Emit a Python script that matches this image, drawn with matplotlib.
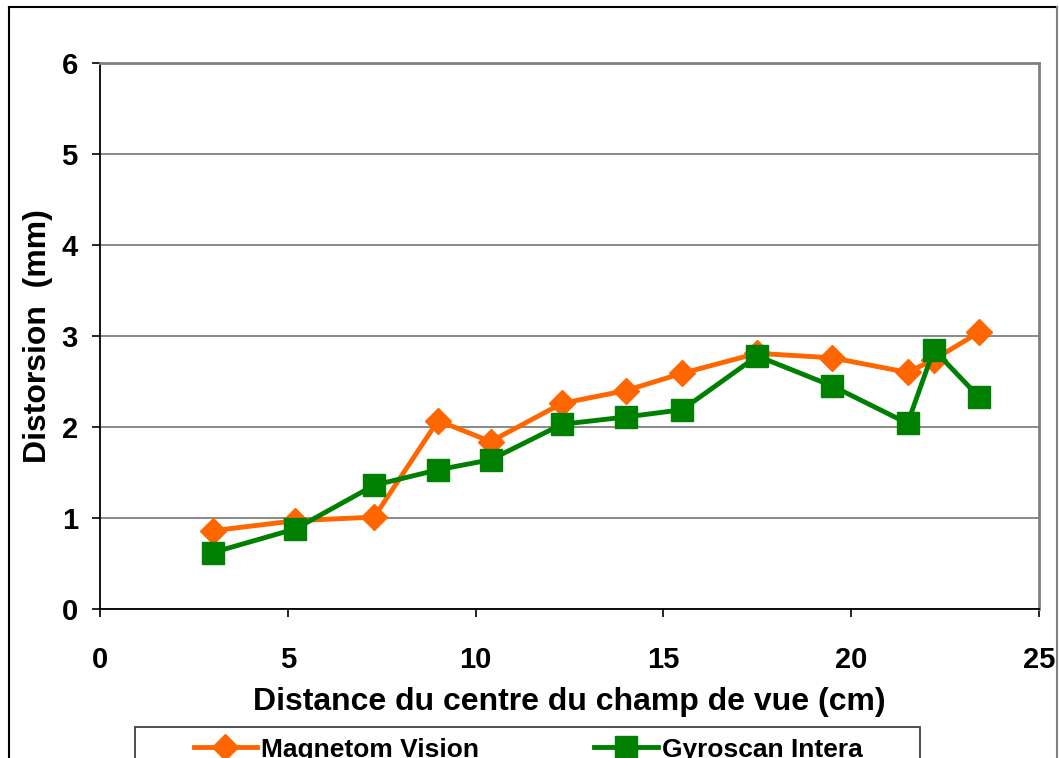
import matplotlib
matplotlib.use("Agg")
from matplotlib import pyplot as plt
from matplotlib.lines import Line2D
from matplotlib.patches import Rectangle

plt.rcParams['font.family'] = ['Liberation Sans', 'DejaVu Sans']
plt.rcParams['font.weight'] = 'bold'

# data
distance = [3.0, 5.2, 7.3, 9.0, 10.4, 12.3, 14.0, 15.5, 17.5, 19.5, 21.5, 22.2, 23.4]
magnetom_vision = [0.86, 0.97, 1.01, 2.07, 1.84, 2.26, 2.40, 2.59, 2.81, 2.76, 2.60, 2.74, 3.04]
gyroscan_intera = [0.62, 0.88, 1.36, 1.53, 1.64, 2.03, 2.11, 2.19, 2.78, 2.45, 2.04, 2.85, 2.33]
x_ticks = [0, 5, 10, 15, 20, 25]
y_ticks = [0, 1, 2, 3, 4, 5, 6]

W, H = 1059, 758
fig = plt.figure(figsize=(W / 100, H / 100), dpi=100)
ax = fig.add_axes([100 / W, 1 - 609 / H, 939 / W, 546 / H])

ax.plot(distance, magnetom_vision, color='#FF6600', lw=3.5, marker='D', ms=13.5,
        label='Magnetom Vision', zorder=3)
ax.plot(distance, gyroscan_intera, color='#008000', lw=3.5, marker='s', ms=16.5,
        label='Gyroscan Intera', zorder=4)

ax.set_xlim(0, 25)
ax.set_ylim(0, 6)
ax.set_xticks(x_ticks)
ax.set_yticks(y_ticks)
ax.yaxis.grid(True, color='#808080', lw=1.3)
ax.set_axisbelow(True)
for s in ['top', 'right']:
    ax.spines[s].set_color('#808080')
    ax.spines[s].set_linewidth(2)
for s in ['left', 'bottom']:
    ax.spines[s].set_linewidth(1.3)
ax.tick_params(direction='out', length=6, width=1.2, labelsize=21)
ax.tick_params(axis='x', pad=21)
ax.tick_params(axis='y', pad=10)

ax.set_xlabel('Distance du centre du champ de vue (cm)', fontsize=23, fontweight='bold', labelpad=9)
ax.set_ylabel('Distorsion  (mm)', fontsize=23, fontweight='bold', labelpad=6)

# legend box (partly cut off by the bottom edge, as in the original)
fig.add_artist(Rectangle((135 / W, -0.05), 785 / W, 1 - 727 / H + 0.05, transform=fig.transFigure,
                         fill=False, edgecolor='#404040', lw=1.3))
fig.legend(loc='upper left', bbox_to_anchor=(183 / W, 1 - 727 / H - 0.1, 690 / W, 0.1),
           mode='expand', ncol=2, frameon=False, handlelength=2.4, handletextpad=0.15,
           borderaxespad=0, prop={'weight': 'bold', 'size': 19})

# outer chart frame
fig.add_artist(Line2D([8.5 / W, 8.5 / W], [0, 1 - 7 / H], transform=fig.transFigure, color='black', lw=1.5))
fig.add_artist(Line2D([8.5 / W, 1057 / W], [1 - 7 / H, 1 - 7 / H], transform=fig.transFigure, color='black', lw=1.5))
fig.add_artist(Line2D([1057 / W, 1057 / W], [0, 1 - 7 / H], transform=fig.transFigure, color='#808080', lw=1.5))

fig.savefig('out.png', dpi=100)
